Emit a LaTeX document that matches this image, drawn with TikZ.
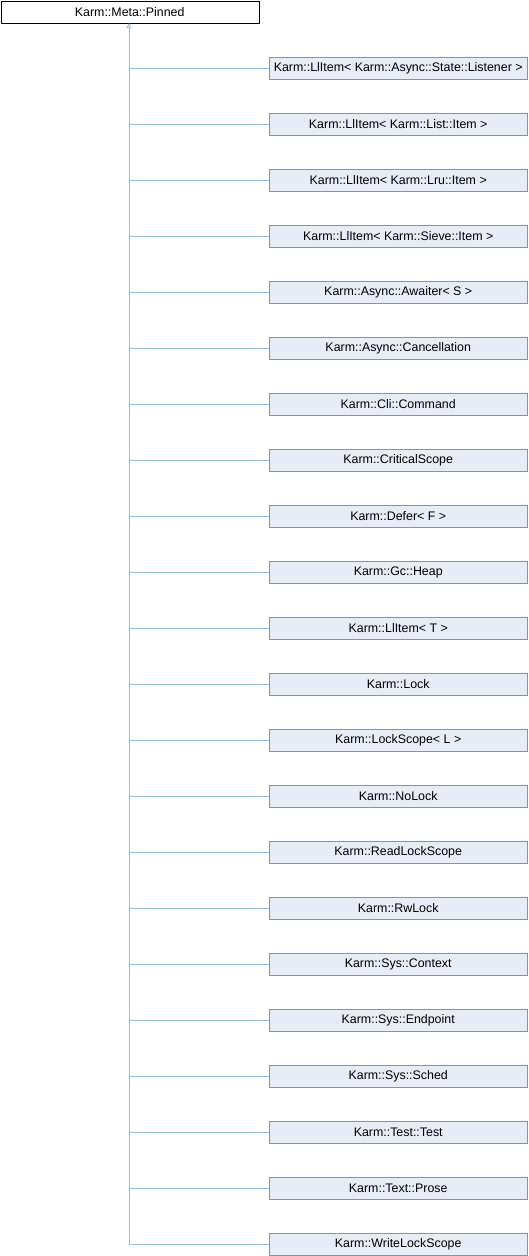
\documentclass[tikz,border=0pt]{standalone}
\usepackage{fontspec}
\setmainfont{Liberation Sans}
\usetikzlibrary{arrows.meta}
\definecolor{edgec}{HTML}{8CC4E4}
\definecolor{boxfill}{HTML}{E8ECF6}
\definecolor{boxdraw}{HTML}{8290C2}
\begin{document}
\begin{tikzpicture}[x=1pt,y=-1pt,
  base/.style={draw=black,fill=white,minimum width=258pt,minimum height=22pt,inner sep=0pt,font=\fontsize{12.4}{14}\selectfont,anchor=west},
  cls/.style={draw=boxdraw,fill=boxfill,minimum width=258pt,minimum height=22pt,inner sep=0pt,font=\fontsize{12.4}{14}\selectfont,anchor=west},
  edge/.style={draw=edgec,line width=0.9pt}]
\useasboundingbox (0,0) rectangle (528,1256);
\node[base] (root) at (0.5,12) {Karm::Meta::Pinned};
\coordinate (trunk) at (129,1244);
\foreach \t [count=\i from 0] in {
 {Karm::LlItem< Karm::Async::State::Listener >},
 {Karm::LlItem< Karm::List::Item >},
 {Karm::LlItem< Karm::Lru::Item >},
 {Karm::LlItem< Karm::Sieve::Item >},
 {Karm::Async::Awaiter< S >},
 {Karm::Async::Cancellation},
 {Karm::Cli::Command},
 {Karm::CriticalScope},
 {Karm::Defer< F >},
 {Karm::Gc::Heap},
 {Karm::LlItem< T >},
 {Karm::Lock},
 {Karm::LockScope< L >},
 {Karm::NoLock},
 {Karm::ReadLockScope},
 {Karm::RwLock},
 {Karm::Sys::Context},
 {Karm::Sys::Endpoint},
 {Karm::Sys::Sched},
 {Karm::Test::Test},
 {Karm::Text::Prose},
 {Karm::WriteLockScope}} {
  \node[cls] (c\i) at (269,68+56*\i) {\t};
  \coordinate (j\i) at (129,68+56*\i);
  \draw[edge] (j\i) -- (c\i.west);
}
\draw[edge,-{Triangle[open,length=5pt,width=5pt]}] (trunk) -- (root.south -| trunk);
\end{tikzpicture}
\end{document}
